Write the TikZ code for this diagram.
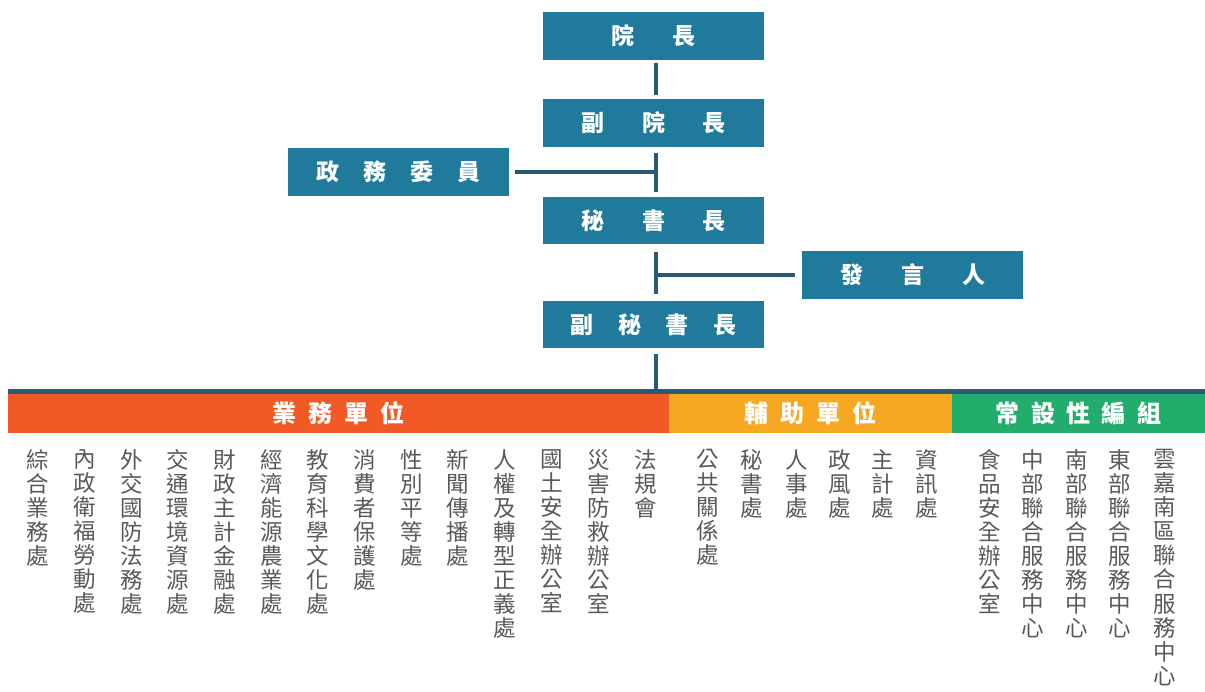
\documentclass[tikz,border=0pt]{standalone}
\usepackage{fontspec}
\newfontfamily\cjk{Noto Sans CJK TC}
\definecolor{boxblue}{HTML}{1F7A9C}
\definecolor{linec}{HTML}{2A5A73}
\definecolor{barorange}{HTML}{F15A24}
\definecolor{baryellow}{HTML}{F7A823}
\definecolor{bargreen}{HTML}{23AD6D}
\definecolor{textgray}{HTML}{595959}
\ExplSyntaxOn
\NewDocumentCommand\spacedtext{mm}{\tl_map_inline:nn {#2} {\makebox[#1]{##1}}}
\NewDocumentCommand\vstacktext{m}{\vbox{\baselineskip=24.1pt\lineskip=0pt\tl_map_inline:nn {#1} {\hbox{##1}}}}
\ExplSyntaxOff
\tikzset{
  orgbox/.style={draw=none,fill=boxblue,text=white,inner sep=0pt,minimum width=221pt,minimum height=47.5pt,font=\cjk\bfseries\fontsize{23}{23}\selectfont},
  conn/.style={draw=linec,line width=4pt},
  barbox/.style={inner sep=0pt,minimum height=39pt,text=white,font=\cjk\bfseries\fontsize{24}{24}\selectfont},
  unitcol/.style={anchor=north,inner sep=0pt,text=textgray,font=\cjk\fontsize{22.5}{24.1}\selectfont},
}
\begin{document}
\begin{tikzpicture}[x=1pt,y=-1pt]
\useasboundingbox (0,0) rectangle (1205,691);
% boxes
\node[orgbox] (yz) at (653.5,36) {\spacedtext{61pt}{院長}};
\node[orgbox] (fyz) at (653.5,123) {\spacedtext{61pt}{副院長}};
\node[orgbox] (zw) at (398.5,172) {\spacedtext{47pt}{政務委員}};
\node[orgbox] (msz) at (653.5,220.5) {\spacedtext{61pt}{秘書長}};
\node[orgbox] (fyr) at (912.5,275) {\spacedtext{61pt}{發言人}};
\node[orgbox] (fmsz) at (653.5,324.5) {\spacedtext{47.5pt}{副秘書長}};
% bars
\node[fill=linec,inner sep=0pt,minimum width=1197pt,minimum height=5pt] (topline) at (606.5,391.5) {};
\node[barbox,fill=barorange,minimum width=661pt] (b1) at (338.5,413.5) {\spacedtext{36pt}{業務單位}};
\node[barbox,fill=baryellow,minimum width=283pt] (b2) at (810.5,413.5) {\spacedtext{36pt}{輔助單位}};
\node[barbox,fill=bargreen,minimum width=253pt] (b3) at (1078.5,413.5) {\spacedtext{35.5pt}{常設性編組}};
% connectors
\draw[conn] ([xshift=2pt,yshift=-3pt]yz.south) -- ([xshift=2pt,yshift=4pt]fyz.north);
\draw[conn] ([xshift=2pt,yshift=-6pt]fyz.south) -- ([xshift=2pt,yshift=5pt]msz.north);
\draw[conn] ([xshift=6pt]zw.east) -- ([xshift=2pt]zw.east -| fyz.south);
\draw[conn] ([xshift=2pt,yshift=-8pt]msz.south) -- ([xshift=2pt,yshift=7pt]fmsz.north);
\draw[conn] ([xshift=-7pt]fyr.west) -- ([xshift=2pt]fyr.west -| msz.south);
\draw[conn] ([xshift=2pt,yshift=-6pt]fmsz.south) -- ([xshift=2pt]topline.north -| fmsz.south);
% columns
\node[unitcol] (u1) at (38,449) {\vstacktext{綜合業務處}};
\node[unitcol] (u2) at (85,449) {\vstacktext{內政衛福勞動處}};
\node[unitcol] (u3) at (132,449) {\vstacktext{外交國防法務處}};
\node[unitcol] (u4) at (178,449) {\vstacktext{交通環境資源處}};
\node[unitcol] (u5) at (225,449) {\vstacktext{財政主計金融處}};
\node[unitcol] (u6) at (272,449) {\vstacktext{經濟能源農業處}};
\node[unitcol] (u7) at (318,449) {\vstacktext{教育科學文化處}};
\node[unitcol] (u8) at (365,449) {\vstacktext{消費者保護處}};
\node[unitcol] (u9) at (412,449) {\vstacktext{性別平等處}};
\node[unitcol] (u10) at (458,449) {\vstacktext{新聞傳播處}};
\node[unitcol] (u11) at (505,449) {\vstacktext{人權及轉型正義處}};
\node[unitcol] (u12) at (552,449) {\vstacktext{國土安全辦公室}};
\node[unitcol] (u13) at (599,449) {\vstacktext{災害防救辦公室}};
\node[unitcol] (u14) at (646,449) {\vstacktext{法規會}};
\node[unitcol] (a1) at (708,449) {\vstacktext{公共關係處}};
\node[unitcol] (a2) at (752,449) {\vstacktext{秘書處}};
\node[unitcol] (a3) at (797,449) {\vstacktext{人事處}};
\node[unitcol] (a4) at (840,449) {\vstacktext{政風處}};
\node[unitcol] (a5) at (883,449) {\vstacktext{主計處}};
\node[unitcol] (a6) at (927,449) {\vstacktext{資訊處}};
\node[unitcol] (s1) at (990,449) {\vstacktext{食品安全辦公室}};
\node[unitcol] (s2) at (1033,449) {\vstacktext{中部聯合服務中心}};
\node[unitcol] (s3) at (1077,449) {\vstacktext{南部聯合服務中心}};
\node[unitcol] (s4) at (1120,449) {\vstacktext{東部聯合服務中心}};
\node[unitcol] (s5) at (1165,449) {\vstacktext{雲嘉南區聯合服務中心}};
\end{tikzpicture}
\end{document}
